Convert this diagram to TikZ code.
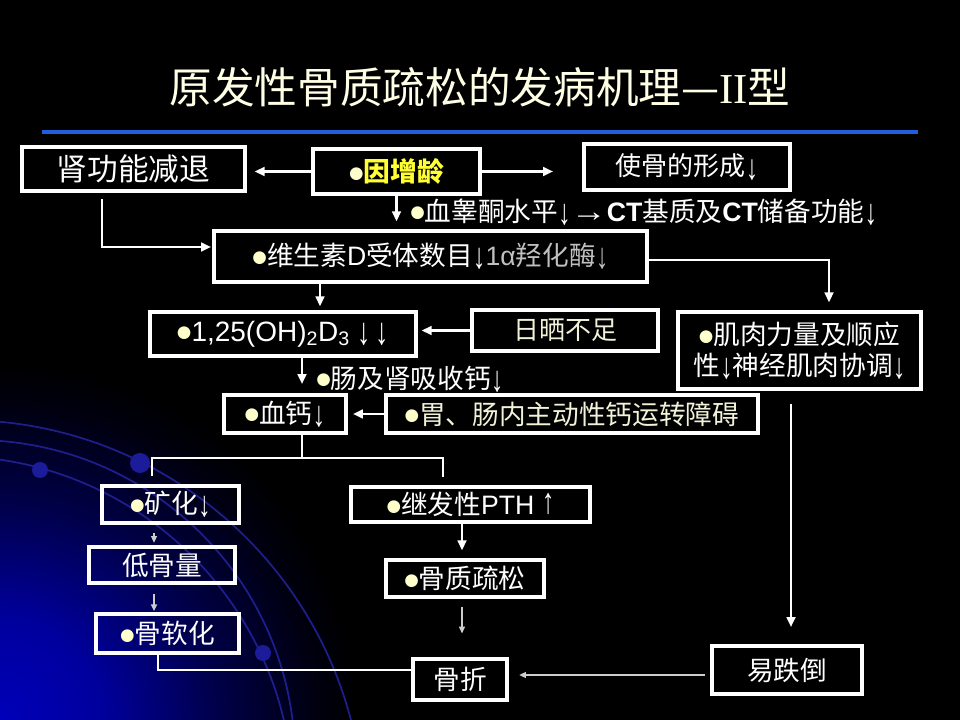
\documentclass[tikz,border=0pt]{standalone}
\usepackage{fontspec}
\usepackage{graphicx}
\setmainfont{Noto Sans CJK SC}
\newfontfamily\lat{Liberation Sans}
\newfontfamily\dv{DejaVu Sans}
\newfontfamily\ser{Liberation Serif}
\usetikzlibrary{arrows.meta}
\definecolor{bulc}{HTML}{FFFFCC}
\definecolor{cream}{HTML}{F2F2D8}
\definecolor{titlec}{HTML}{FFFFE6}
\definecolor{linec}{HTML}{1E5FDC}
\definecolor{glowc}{RGB}{0,0,185}
\definecolor{arcc}{RGB}{30,30,140}
\definecolor{dotc}{RGB}{28,28,155}
\definecolor{thinc}{HTML}{CCCCCC}
\definecolor{grayt}{HTML}{C0C0C0}
\definecolor{yel}{HTML}{FFFF33}
\pgfdeclareradialshading{glow}{\pgfpoint{0bp}{0bp}}{color(0bp)=(glowc); color(7bp)=(glowc!85!black); color(15bp)=(glowc!40!black); color(22bp)=(glowc!8!black); color(25bp)=(black); color(50bp)=(black)}
\newcommand\bl{{\color{bulc}\dv\fontsize{12.5}{12}\selectfont\raisebox{0.2em}{●}}}
\newcommand\dn{\raisebox{-0.12em}{\scalebox{0.95}[1.35]{\lat ↓}}}
\begin{document}
\begin{tikzpicture}[x=0.75pt,y=-0.75pt,
  box/.style={draw=white, line width=2.4pt, inner sep=0pt, text=white, font=\fontsize{20}{23}\selectfont},
  conn/.style={draw=white, line width=2pt, -{Triangle[length=7.5pt,width=6.5pt]}},
  thinarr/.style={draw=thinc, line width=0.9pt, -{Triangle[length=5pt,width=4.5pt]}},
  plain/.style={draw=white, line width=2pt},
  lbl/.style={anchor=west, inner sep=0pt, text=white, font=\fontsize{20}{23}\selectfont},
  arcline/.style={draw=arcc, line width=1.3pt}
]
% background
\fill[black] (0,0) rectangle (960,720);
\useasboundingbox (0,0) rectangle (960,720);
\begin{scope}
\clip (0,0) rectangle (960,720);
\shade[shading=glow] (0,720) circle (360);
\draw[arcline] (-38,822) circle (402);
\draw[arcline] (-25,760) circle (320);
\draw[arcline] (-50,799) circle (343);
\fill[dotc] (40,470) circle (8);
\fill[dotc] (140,463) circle (10);
\fill[dotc] (263,653) circle (8);
\end{scope}
% title
\node[text=titlec, font=\fontsize{32}{34}\selectfont] (title) at (480,87) {原发性骨质疏松的发病机理—{\ser II}型};
\coordinate (rl) at (42,132);
\coordinate (rr) at (918,132);
\draw[linec, line width=3.5pt] (rl) -- (rr);
% boxes
\node[box, minimum width=167.25pt, minimum height=33pt, font=\fontsize{23}{24}\selectfont] (kid) at (133.5,169) {肾功能减退};
\node[box, minimum width=125.25pt, minimum height=33.75pt] (age) at (396.5,171.5) {\bl{\color{yel}\bfseries 因增龄}};
\node[box, minimum width=154.5pt, minimum height=34.5pt, font=\fontsize{19.5}{20}\selectfont] (form) at (687,167) {使骨的形成\dn};
\node[lbl] (test) at (410,212) {\bl 血睾酮水平\dn\scalebox{1.35}[1.1]{\lat\bfseries →}{\lat\bfseries CT}基质及{\lat\bfseries CT}储备功能\dn};
\node[box, minimum width=324.75pt, minimum height=38.25pt] (vitD) at (430.5,256.5) {\bl 维生素{\lat D}受体数目\dn{\color{grayt}{\lat 1α}羟化酶\dn}};
\node[box, minimum width=199.5pt, minimum height=33pt, font=\fontsize{21}{23}\selectfont] (c125) at (283,334) {\bl{\lat 1,25(OH)\textsubscript{2}D\textsubscript{3} }\dn\,\dn};
\node[box, minimum width=139.5pt, minimum height=30.75pt, text=cream, font=\fontsize{19.5}{22}\selectfont] (sun) at (565,330.5) {日晒不足};
\node[box, minimum width=182.25pt, minimum height=57.75pt, align=center] (muscle) at (799.5,350.5) {\bl 肌肉力量及顺应\\性\dn 神经肌肉协调\dn};
\node[lbl] (gut) at (316,379) {\bl 肠及肾吸收钙\dn};
\node[box, minimum width=91.5pt, minimum height=28.5pt] (blood) at (285,414) {\bl 血钙\dn};
\node[box, minimum width=279pt, minimum height=28.5pt, text=cream] (stom) at (572,414) {\bl 胃、肠内主动性钙运转障碍};
\node[box, minimum width=102.75pt, minimum height=27.75pt] (mineral) at (170.5,504.5) {\bl 矿化\dn};
\node[box, minimum width=109.5pt, minimum height=27pt] (low) at (162,565) {低骨量};
\node[box, minimum width=107.25pt, minimum height=29.25pt] (mal) at (167.5,633.5) {\bl 骨软化};
\node[box, minimum width=179.25pt, minimum height=26.25pt] (pth) at (470.5,504.5) {\bl 继发性{\lat PTH }\raisebox{0.05em}{\scalebox{0.95}[1.35]{\lat ↑}}};
\node[box, minimum width=118.5pt, minimum height=27.75pt] (ost) at (465,578.5) {\bl 骨质疏松};
\node[box, minimum width=70.5pt, minimum height=30.75pt] (frac) at (460,679.5) {骨折};
\node[box, minimum width=112.5pt, minimum height=36pt] (fall) at (787,670) {易跌倒};
% connectors
\draw[conn, shorten >=6pt] (age.west) -- (age.west -| kid.east);
\draw[conn, shorten >=22pt] (age.east) -- (age.east -| form.west);
\draw[conn, shorten >=6pt] (age.south) -- (age.south |- vitD.north);
\coordinate (k1) at (102,247);
\draw[conn, shorten <=5pt, shorten >=1pt] (kid.south -| k1) |- (vitD.west |- k1);
\coordinate (m1) at (829,260);
\draw[conn, shorten >=6pt] (vitD.east |- m1) -| (muscle.north -| m1);
\coordinate (v1) at (320,0);
\draw[conn, shorten >=3pt] (vitD.south -| v1) -- (c125.north -| v1);
\draw[conn, shorten >=3pt] (sun.west) -- (sun.west -| c125.east);
\coordinate (v2) at (302,0);
\draw[conn, shorten >=7pt] (c125.south -| v2) -- (blood.north -| v2);
\draw[conn, shorten >=4pt] (stom.west) -- (stom.west -| blood.east);
\coordinate (v3) at (791,0);
\draw[conn, shorten <=10pt, shorten >=13pt] (muscle.south -| v3) -- (fall.north -| v3);
\coordinate (hl) at (152,458);
\coordinate (hr) at (443,458);
\coordinate (hm) at (302,458);
\draw[plain] (blood.south -| hm) -- (hm);
\draw[plain, shorten <=6pt, shorten >=6pt] (mineral.north -| hl) -- (hl) -- (hr) -- (pth.north -| hr);
\coordinate (v4) at (154,0);
\draw[thinarr, shorten <=6pt, shorten >=2pt] (mineral.south -| v4) -- (low.north -| v4);
\draw[thinarr, shorten <=7pt, shorten >=1pt] (low.south -| v4) -- (mal.north -| v4);
\coordinate (v5) at (158,670);
\draw[plain] (mal.south -| v5) |- (frac.west |- v5);
\coordinate (v6) at (462,0);
\draw[conn, shorten >=6pt] (pth.south -| v6) -- (ost.north -| v6);
\draw[thinarr, shorten <=6pt, shorten >=18pt] (ost.south -| v6) -- (frac.north -| v6);
\coordinate (v7) at (0,675);
\draw[thinarr, shorten <=4pt, shorten >=8pt] (fall.west |- v7) -- (frac.east |- v7);
\end{tikzpicture}
\end{document}
